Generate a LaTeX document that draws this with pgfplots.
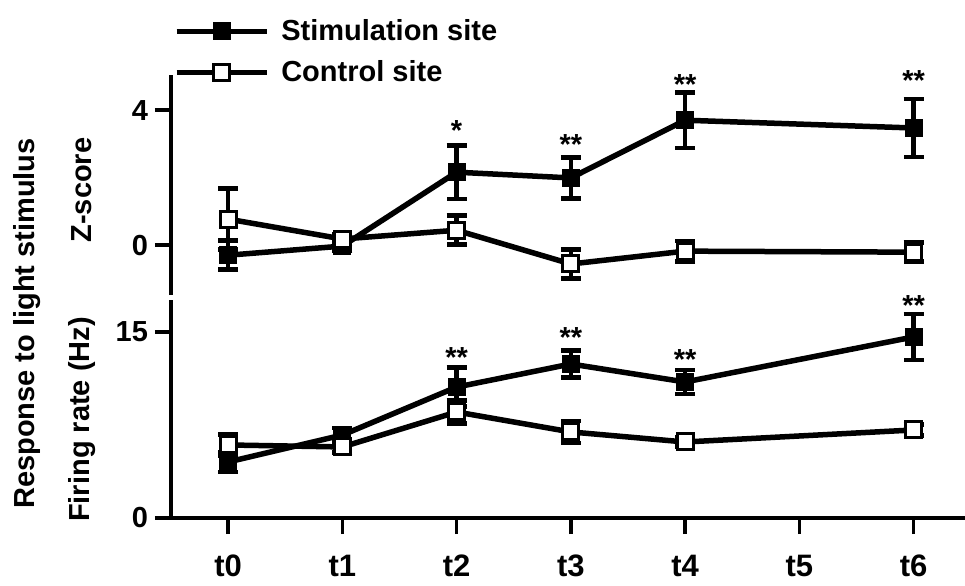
\documentclass[border=0pt]{standalone}
\usepackage{fontspec}
\setmainfont{Liberation Sans}
\usepackage{pgfplots}
\pgfplotsset{compat=1.18}
\newcommand{\ff}{\fontsize{14.5}{17}\selectfont\bfseries}
\begin{document}
\begin{tikzpicture}[font=\ff]
\path[use as bounding box] (0pt,0pt) rectangle (482.5pt,-292.5pt);
\tikzset{star/.style={font=\ff, yshift=-3pt}}
\pgfplotsset{
  panel/.style={
    scale only axis, width=397pt,
    xmin=-0.5, xmax=6.45,
    axis line style={line width=1.75pt, -},
    every tick/.style={line width=1.75pt, black},
    major tick length=8pt,
    tick align=outside,
    /pgf/number format/assume math mode=true,
    ticklabel style={font=\ff},
    label style={font=\ff},
    clip=false,
  },
  stim/.style={black, line width=2.75pt, mark=square*, mark size=4pt,
    mark options={solid, fill=black, draw=black, line width=1pt},
    error bars/.cd, y dir=both, y explicit,
    error bar style={line width=2.25pt},
    error mark options={rotate=90, mark size=5pt, line width=2.25pt}},
  ctrl/.style={black, line width=2.75pt, mark=square*, mark size=4pt,
    mark options={solid, fill=white, draw=black, line width=1.5pt},
    error bars/.cd, y dir=both, y explicit,
    error bar style={line width=2.25pt},
    error mark options={rotate=90, mark size=5pt, line width=2.25pt}},
}
% ---------- top panel: Z-score
\begin{axis}[panel, at={(85.5pt,-37.5pt)}, anchor=north west, height=110pt,
  ymin=-1.48, ymax=5.04, axis x line=none, axis y line*=left,
  ytick={0,4}, xtick=\empty,
  ylabel={Z-score}, ylabel style={at={(axis description cs:-0.112,0.477)}, anchor=center},
  legend style={at={(axis description cs:0.003,1.255)}, anchor=north west,
    draw=none, fill=none, inner xsep=0pt, inner ysep=0pt,
    nodes={inner sep=0pt, text depth=0.15em, font=\ff},
    cells={anchor=west}, row sep=8.5pt,
    /tikz/every odd column/.append style={column sep=6pt}},
  legend image code/.code={\draw[#1, mark repeat=2, mark phase=2] plot coordinates {(0pt,0pt) (22.5pt,0pt) (45pt,0pt)};},
]
\addplot[stim] coordinates {
 (0,-0.30) +- (0,0.43)
 (1,-0.03) +- (0,0.15)
 (2,2.16) +- (0,0.79)
 (3,1.99) +- (0,0.61)
 (4,3.70) +- (0,0.82)
 (6,3.47) +- (0,0.86)
};
\addlegendentry{Stimulation site}
\addplot[ctrl] coordinates {
 (0,0.77) +- (0,0.90)
 (1,0.18) +- (0,0.15)
 (2,0.44) +- (0,0.43)
 (3,-0.56) +- (0,0.43)
 (4,-0.18) +- (0,0.30)
 (6,-0.21) +- (0,0.28)
};
\addlegendentry{Control site}
\node[star] at (axis cs:2,3.56) {*};
\node[star] at (axis cs:3,3.17) {**};
\node[star] at (axis cs:4,4.95) {**};
\node[star] at (axis cs:6,5.04) {**};
\end{axis}
% ---------- bottom panel: firing rate
\begin{axis}[panel, at={(85.5pt,-150pt)}, anchor=north west, height=109pt,
  ymin=0, ymax=17.58, axis x line*=bottom, axis y line*=left,
  ytick={0,15}, xtick={0,1,2,3,4,5,6}, xticklabels={t0,t1,t2,t3,t4,t5,t6},
  xticklabel style={yshift=-7pt, font=\fontsize{15.5}{18}\selectfont\bfseries},
  ylabel={Firing rate (Hz)}, ylabel style={at={(axis description cs:-0.112,0.452)}, anchor=center},
]
\addplot[stim] coordinates {
 (0,4.52) +- (0,0.80)
 (1,6.69) +- (0,0.56)
 (2,10.56) +- (0,1.57)
 (3,12.42) +- (0,1.09)
 (4,10.97) +- (0,0.97)
 (6,14.60) +- (0,1.85)
};
\addplot[ctrl] coordinates {
 (0,5.89) +- (0,0.85)
 (1,5.73) +- (0,0.45)
 (2,8.55) +- (0,0.93)
 (3,6.94) +- (0,0.90)
 (4,6.13) +- (0,0.35)
 (6,7.10) +- (0,0.45)
};
\node[star] at (axis cs:2,13.4) {**};
\node[star] at (axis cs:3,15.0) {**};
\node[star] at (axis cs:4,13.3) {**};
\node[star] at (axis cs:6,17.6) {**};
\end{axis}
\node[rotate=90, font=\ff] at (13.5pt,-161.75pt) {Response to light stimulus};
\end{tikzpicture}
\end{document}
